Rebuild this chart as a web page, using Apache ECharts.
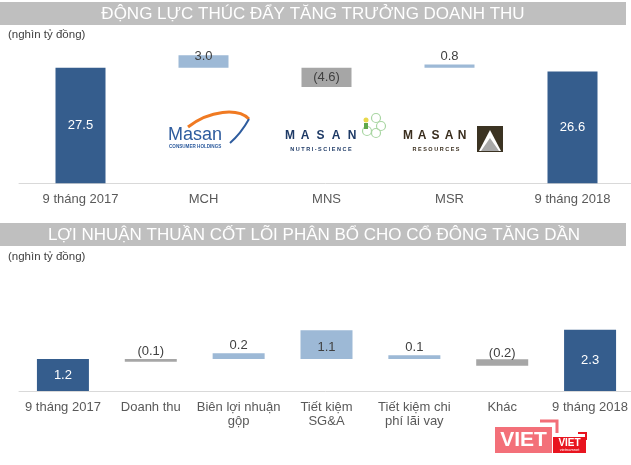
<!DOCTYPE html>
<html>
<head>
<meta charset="utf-8">
<script src="https://cdn.jsdelivr.net/npm/echarts@6/dist/echarts.min.js"></script>
<style>
html,body{margin:0;padding:0;background:#fff;}
#c{width:631px;height:465px;}
</style>
</head>
<body>
<div id="c"></div>
<script>
// ---- Data ----
const title1 = 'ĐỘNG LỰC THÚC ĐẨY TĂNG TRƯỞNG DOANH THU';
const title2 = 'LỢI NHUẬN THUẦN CỐT LÕI PHÂN BỔ CHO CỔ ĐÔNG TĂNG DẦN';
const unitText = '(nghìn tỷ đồng)';

const cats1 = ['9 tháng 2017', 'MCH', 'MNS', 'MSR', '9 tháng 2018'];
const vals1 = [27.5, 3.0, -4.6, 0.8, 26.6];
const base1 = [0, 27.5, 22.9, 27.5, 0];

const cats2 = ['9 tháng 2017', 'Doanh thu', 'Biên lợi nhuận\ngộp', 'Tiết kiệm\nSG&A', 'Tiết kiệm chi\nphí lãi vay', 'Khác', '9 tháng 2018'];
const vals2 = [1.2, -0.1, 0.22, 1.08, 0.14, -0.24, 2.3];
const base2 = [0, 1.1, 1.2, 1.2, 1.2, 0.95, 0];

// ---- Styles ----
const FONT = '"Liberation Sans", Arial, sans-serif';
const C_TOTAL = '#355D8D';
const C_UP = '#9DB9D6';
const C_DOWN = '#A6A6A6';
const C_AXISTXT = '#595959';
const C_LBL = '#404040';

function fmt(v) {
  const s = Math.abs(v).toFixed(1);
  return v < 0 ? '(' + s + ')' : s;
}

function buildItems(vals, labelCfg) {
  return vals.map(function (v, i) {
    const total = (i === 0 || i === vals.length - 1);
    const color = total ? C_TOTAL : (v < 0 ? C_DOWN : C_UP);
    const lc = labelCfg[i];
    return {
      value: Math.abs(v),
      itemStyle: { color: color },
      label: {
        show: true,
        position: lc.pos,
        distance: lc.dist,
        offset: lc.off || [0, 0],
        color: total ? '#ffffff' : C_LBL,
        fontSize: 13,
        fontFamily: FONT,
        formatter: fmt(v)
      }
    };
  });
}

const labels1 = [
  { pos: 'inside' },
  { pos: 'top', dist: -7.5 },
  { pos: 'inside' },
  { pos: 'top', dist: 2 },
  { pos: 'inside' }
];
const labels2 = [
  { pos: 'inside' },
  { pos: 'top', dist: 1 },
  { pos: 'top', dist: 1 },
  { pos: 'inside', off: [0, 3] },
  { pos: 'top', dist: 1 },
  { pos: 'top', dist: -1 },
  { pos: 'inside' }
];

const chart = echarts.init(document.getElementById('c'), null, { renderer: 'canvas' });

function spacedLetters(str, xs, y, size, color) {
  return str.split('').map(function (ch, i) {
    return {
      type: 'text', x: xs[i], y: y,
      style: { text: ch, fill: color, font: 'bold ' + size + 'px ' + FONT, align: 'center', verticalAlign: 'middle' }
    };
  });
}

const graphics = [
  // title bars
  { type: 'rect', shape: { x: 0, y: 2, width: 626, height: 23 }, style: { fill: '#BFBFBF' } },
  { type: 'text', x: 313, y: 14, style: { text: title1, fill: '#ffffff', font: '17px ' + FONT, align: 'center', verticalAlign: 'middle' } },
  { type: 'text', x: 8, y: 35, style: { text: unitText, fill: C_LBL, font: '11.5px ' + FONT, align: 'left', verticalAlign: 'middle' } },
  { type: 'rect', shape: { x: 0, y: 223, width: 626, height: 23 }, style: { fill: '#BFBFBF' } },
  { type: 'text', x: 314, y: 235, style: { text: title2, fill: '#ffffff', font: '17px ' + FONT, align: 'center', verticalAlign: 'middle' } },
  { type: 'text', x: 8, y: 257, style: { text: unitText, fill: C_LBL, font: '11.5px ' + FONT, align: 'left', verticalAlign: 'middle' } },

  // MCH logo
  { type: 'bezierCurve', shape: { x1: 188, y1: 127, cpx1: 210, cpy1: 110, cpx2: 238, cpy2: 108, x2: 249, y2: 119 }, style: { stroke: '#F07A22', lineWidth: 3, fill: null } },
  { type: 'bezierCurve', shape: { x1: 249, y1: 119, cpx1: 244, cpy1: 128, cpx2: 238, cpy2: 136, x2: 230, y2: 143 }, style: { stroke: '#2E5C9E', lineWidth: 2, fill: null } },
  { type: 'text', x: 168, y: 135, style: { text: 'Masan', fill: '#2E5C9E', font: '18px ' + FONT, align: 'left', verticalAlign: 'middle' } },
  { type: 'text', x: 169, y: 147, style: { text: 'CONSUMER HOLDINGS', fill: '#2E5C9E', font: 'bold 4.6px ' + FONT, align: 'left', verticalAlign: 'middle' } },

  // MNS logo
  ...spacedLetters('MASAN', [290, 305, 320.5, 336, 352], 136, 12, '#1E3A66'),
  { type: 'text', x: 321, y: 149, style: { text: 'N U T R I - S C I E N C E', fill: '#1E3A66', font: 'bold 5.5px ' + FONT, align: 'center', verticalAlign: 'middle' } },
  { type: 'circle', shape: { cx: 376, cy: 118, r: 4.5 }, style: { stroke: '#A9D6A3', lineWidth: 1.2, fill: null } },
  { type: 'circle', shape: { cx: 381, cy: 126, r: 4.5 }, style: { stroke: '#A9D6A3', lineWidth: 1.2, fill: null } },
  { type: 'circle', shape: { cx: 376, cy: 133, r: 4.5 }, style: { stroke: '#A9D6A3', lineWidth: 1.2, fill: null } },
  { type: 'circle', shape: { cx: 367, cy: 131, r: 4.5 }, style: { stroke: '#A9D6A3', lineWidth: 1.2, fill: null } },
  { type: 'circle', shape: { cx: 366, cy: 120, r: 2.5 }, style: { fill: '#E8D84A' } },
  { type: 'rect', shape: { x: 364, y: 123, width: 4, height: 6 }, style: { fill: '#5FA84A' } },

  // MSR logo
  ...spacedLetters('MASAN', [408, 422, 435.5, 449, 462], 136, 12, '#3A2E1E'),
  { type: 'text', x: 436, y: 149, style: { text: 'R E S O U R C E S', fill: '#3A2E1E', font: 'bold 5.5px ' + FONT, align: 'center', verticalAlign: 'middle' } },
  { type: 'rect', shape: { x: 477, y: 126, width: 26, height: 26 }, style: { fill: '#3B3322' } },
  { type: 'polygon', shape: { points: [[490, 130], [479, 151], [501, 151]] }, style: { fill: '#ffffff' } },
  { type: 'polygon', shape: { points: [[490, 138], [481, 151], [499, 151]] }, style: { fill: '#A8A8A8' } },

  // watermark
  { type: 'polyline', shape: { points: [[540, 421], [557, 421], [557, 433]] }, style: { stroke: '#F26D77', lineWidth: 3, fill: null } },
  { type: 'rect', shape: { x: 495, y: 427, width: 57, height: 26 }, style: { fill: '#F2646E', opacity: 0.92 } },
  { type: 'text', x: 523.5, y: 440.5, style: { text: 'VIET', fill: '#ffffff', font: 'bold 21px ' + FONT, align: 'center', verticalAlign: 'middle' } },
  { type: 'polyline', shape: { points: [[578, 433], [586, 433], [586, 440]] }, style: { stroke: '#E8141F', lineWidth: 2, fill: null } },
  { type: 'rect', shape: { x: 553, y: 437, width: 33, height: 16 }, style: { fill: '#E8141F' } },
  { type: 'text', x: 569.5, y: 443, style: { text: 'VIET', fill: '#ffffff', font: 'bold 10px ' + FONT, align: 'center', verticalAlign: 'middle' } },
  { type: 'text', x: 569.5, y: 450, style: { text: 'vietnamnet', fill: '#ffffff', font: '4px ' + FONT, align: 'center', verticalAlign: 'middle' } }
];

const option = {
  animation: false,
  backgroundColor: '#ffffff',
  grid: [
    { left: 19, width: 615, top: 36.3, height: 147, outerBoundsMode: 'none', containLabel: false },
    { left: 19, width: 615, top: 284.6, height: 106.4, outerBoundsMode: 'none', containLabel: false }
  ],
  xAxis: [
    {
      type: 'category', gridIndex: 0, data: cats1,
      axisLine: { show: true, lineStyle: { color: '#D9D9D9', width: 1 } },
      axisTick: { show: false },
      axisLabel: { color: C_AXISTXT, fontSize: 13, fontFamily: FONT, margin: 10, interval: 0 },
      splitLine: { show: false }
    },
    {
      type: 'category', gridIndex: 1, data: cats2,
      axisLine: { show: true, lineStyle: { color: '#D9D9D9', width: 1 } },
      axisTick: { show: false },
      axisLabel: { color: C_AXISTXT, fontSize: 13, fontFamily: FONT, margin: 9, lineHeight: 14, interval: 0 },
      splitLine: { show: false }
    }
  ],
  yAxis: [
    { type: 'value', gridIndex: 0, min: 0, max: 35, show: false, splitLine: { show: false } },
    { type: 'value', gridIndex: 1, min: 0, max: 4, show: false, splitLine: { show: false } }
  ],
  series: [
    {
      type: 'bar', xAxisIndex: 0, yAxisIndex: 0, stack: 's1', barWidth: 50, silent: true,
      itemStyle: { color: 'rgba(0,0,0,0)' }, data: base1
    },
    {
      type: 'bar', xAxisIndex: 0, yAxisIndex: 0, stack: 's1', barWidth: 50,
      data: buildItems(vals1, labels1)
    },
    {
      type: 'bar', xAxisIndex: 1, yAxisIndex: 1, stack: 's2', barWidth: 52, silent: true,
      itemStyle: { color: 'rgba(0,0,0,0)' }, data: base2
    },
    {
      type: 'bar', xAxisIndex: 1, yAxisIndex: 1, stack: 's2', barWidth: 52,
      data: buildItems(vals2, labels2)
    }
  ],
  graphic: { elements: graphics }
};

chart.setOption(option);
</script>
</body>
</html>
